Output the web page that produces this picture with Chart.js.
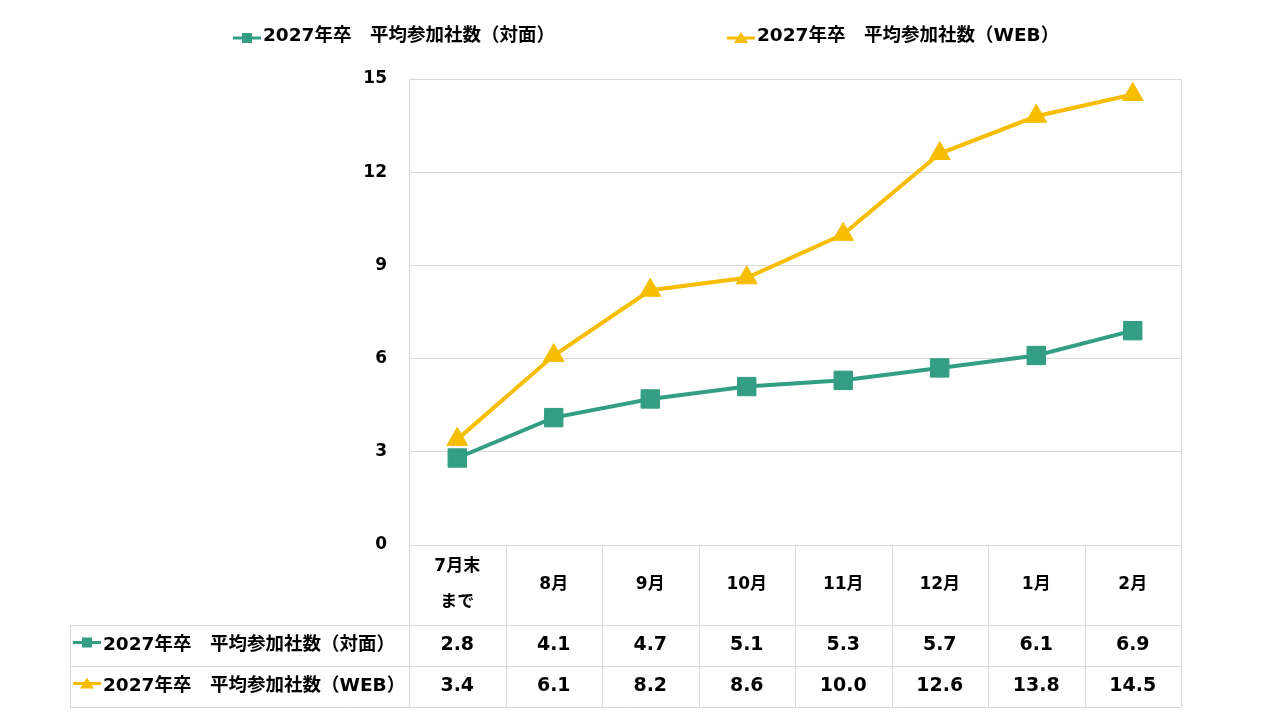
<!DOCTYPE html>
<html lang="ja">
<head>
  <meta charset="UTF-8">
  <title>2027年卒 平均参加社数</title>
  <script src="https://cdn.jsdelivr.net/npm/chart.js"></script>
  <style>
    body { margin: 0; background: #ffffff; }
    #wrap { width: 1280px; height: 720px; }
  </style>
</head>
<body>
  <div id="wrap"><canvas id="chart" width="1280" height="720"></canvas></div>
  <script>
    const months = [['7月末', 'まで'], '8月', '9月', '10月', '11月', '12月', '1月', '2月'];
    const seriesNames = ['2027年卒　平均参加社数（対面）', '2027年卒　平均参加社数（WEB）'];
    const taimen = [2.8, 4.1, 4.7, 5.1, 5.3, 5.7, 6.1, 6.9];
    const web = [3.4, 6.1, 8.2, 8.6, 10.0, 12.6, 13.8, 14.5];
    const yTicks = [0, 3, 6, 9, 12, 15];

    const GREEN = '#339e82';
    const YELLOW = '#f7bd00';
    const GRID = '#d9d9d9';
    const FONT = '"DejaVu Sans", "Noto Sans CJK JP", sans-serif';

    // marker used in legend and table rows
    function drawKey(ctx, x, y, ds) {
      ctx.save();
      ctx.strokeStyle = ds.borderColor;
      ctx.fillStyle = ds.borderColor;
      ctx.lineWidth = 3;
      ctx.beginPath();
      ctx.moveTo(x, y);
      ctx.lineTo(x + 28, y);
      ctx.stroke();
      const cx = x + 14;
      ctx.beginPath();
      if (ds.pointStyle === 'rect') {
        ctx.rect(cx - 5, y - 5, 10, 10);
      } else {
        ctx.moveTo(cx, y - 6);
        ctx.lineTo(cx + 7, y + 5);
        ctx.lineTo(cx - 7, y + 5);
        ctx.closePath();
      }
      ctx.fill();
      ctx.restore();
    }

    const tablePlugin = {
      id: 'dataTable',
      afterDraw(chart) {
        const ctx = chart.ctx;
        const xs = chart.scales.x;
        const area = chart.chartArea;
        const half = (xs.getPixelForValue(1) - xs.getPixelForValue(0)) / 2;
        const top = area.bottom;
        const rowY = [top, top + 80, top + 121, top + 162];
        const leftX = 70;

        ctx.save();
        // plot area right border
        ctx.strokeStyle = GRID;
        ctx.lineWidth = 1;
        ctx.beginPath();
        ctx.moveTo(area.right + 0.5, area.top);
        ctx.lineTo(area.right + 0.5, area.bottom);
        ctx.stroke();

        // table grid
        ctx.beginPath();
        for (let i = 0; i <= months.length; i++) {
          const x = Math.round(xs.getPixelForValue(i) - half) + 0.5;
          ctx.moveTo(x, rowY[0]);
          ctx.lineTo(x, rowY[3]);
        }
        ctx.moveTo(leftX + 0.5, rowY[1]);
        ctx.lineTo(leftX + 0.5, rowY[3]);
        ctx.moveTo(area.left, rowY[0] + 0.5);
        ctx.lineTo(area.right, rowY[0] + 0.5);
        for (let r = 1; r <= 3; r++) {
          ctx.moveTo(leftX, rowY[r] + 0.5);
          ctx.lineTo(area.right, rowY[r] + 0.5);
        }
        ctx.stroke();

        ctx.fillStyle = '#000000';
        ctx.textAlign = 'center';
        ctx.textBaseline = 'middle';
        ctx.font = 'bold 17px ' + FONT;
        months.forEach((m, i) => {
          const x = xs.getPixelForValue(i);
          const midY = (rowY[0] + rowY[1]) / 2;
          if (Array.isArray(m)) {
            ctx.fillText(m[0], x, midY - 18);
            ctx.fillText(m[1], x, midY + 18);
          } else {
            ctx.fillText(m, x, midY);
          }
        });

        chart.data.datasets.forEach((ds, r) => {
          const midY = (rowY[r + 1] + rowY[r + 2]) / 2;
          ctx.font = 'bold 19px ' + FONT;
          ds.data.forEach((v, i) => {
            ctx.textAlign = 'center';
            ctx.fillText(v.toFixed(1), xs.getPixelForValue(i), midY);
          });
          drawKey(ctx, leftX + 3, midY - 3, ds);
          ctx.font = 'bold 18.5px ' + FONT;
          ctx.textAlign = 'left';
          ctx.fillText(ds.label, leftX + 33, midY);
        });

        // legend on top
        ctx.font = 'bold 18.5px ' + FONT;
        const legendX = [233, 727];
        chart.data.datasets.forEach((ds, r) => {
          drawKey(ctx, legendX[r], 38, ds);
          ctx.textAlign = 'left';
          ctx.fillText(ds.label, legendX[r] + 30, 36);
        });
        ctx.restore();
      }
    };

    new Chart(document.getElementById('chart'), {
      type: 'line',
      data: {
        labels: months,
        datasets: [
          {
            label: seriesNames[0],
            data: taimen,
            borderColor: GREEN,
            backgroundColor: GREEN,
            borderWidth: 4,
            pointStyle: 'rect',
            pointRadius: 13,
            pointHoverRadius: 13,
            pointBorderWidth: 1,
            tension: 0
          },
          {
            label: seriesNames[1],
            data: web,
            borderColor: YELLOW,
            backgroundColor: YELLOW,
            borderWidth: 4,
            pointStyle: 'triangle',
            pointRadius: 12,
            pointHoverRadius: 12,
            pointBorderWidth: 1,
            tension: 0
          }
        ]
      },
      options: {
        responsive: false,
        animation: false,
        events: [],
        layout: { padding: { top: 79, right: 99, bottom: 175, left: 0 } },
        plugins: {
          legend: { display: false },
          tooltip: { enabled: false }
        },
        scales: {
          x: {
            type: 'category',
            offset: true,
            display: false
          },
          y: {
            min: 0,
            max: 15,
            afterFit(scale) { scale.width = 409; },
            afterBuildTicks(scale) { scale.ticks = yTicks.map(v => ({ value: v })); },
            border: { display: true, color: GRID },
            grid: { color: GRID, drawTicks: false },
            ticks: {
              padding: 22,
              color: '#000000',
              font: { family: FONT, size: 17, weight: 'bold' }
            }
          }
        }
      },
      plugins: [tablePlugin]
    });
  </script>
</body>
</html>
